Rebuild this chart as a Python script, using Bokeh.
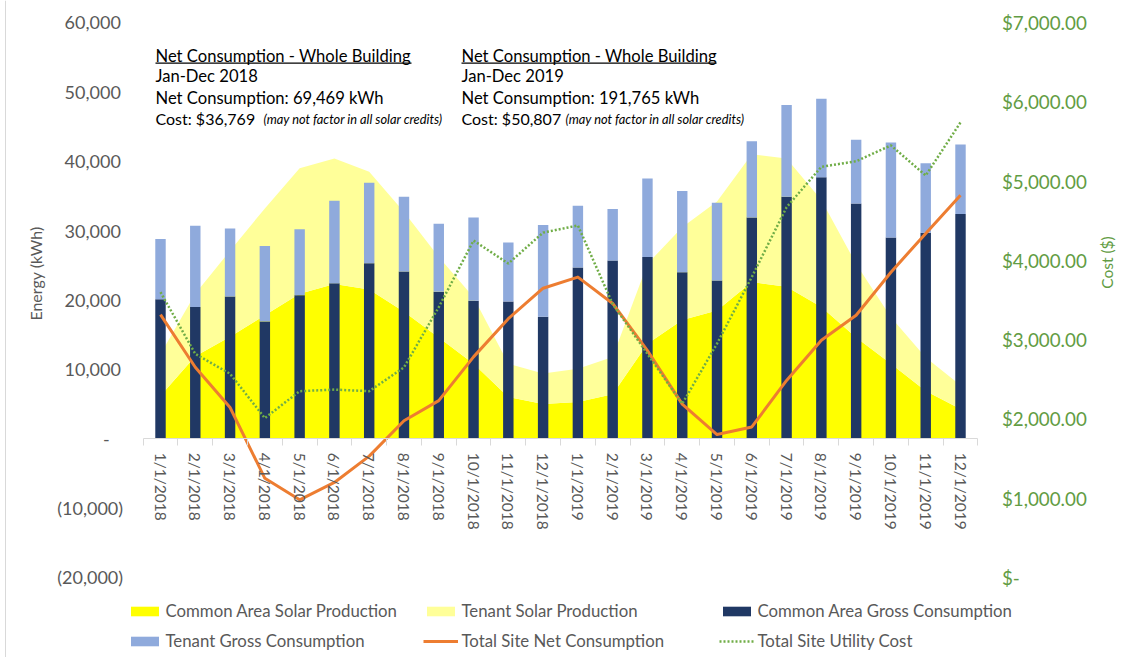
import math
from bokeh.plotting import figure
from bokeh.models import (ColumnDataSource, Range1d, LinearAxis, FixedTicker,
                          Legend, LegendItem, Label, BoxAnnotation, Span)
from bokeh.embed import file_html
from bokeh.resources import INLINE

# ---------------- data ----------------
months = ["1/1/2018", "2/1/2018", "3/1/2018", "4/1/2018", "5/1/2018", "6/1/2018",
          "7/1/2018", "8/1/2018", "9/1/2018", "10/1/2018", "11/1/2018", "12/1/2018",
          "1/1/2019", "2/1/2019", "3/1/2019", "4/1/2019", "5/1/2019", "6/1/2019",
          "7/1/2019", "8/1/2019", "9/1/2019", "10/1/2019", "11/1/2019", "12/1/2019"]

common_solar = [6200, 11900, 14700, 17800, 20900, 22300, 21500, 18300, 14600, 10800, 6000, 5000,
                5300, 6400, 13700, 17100, 18500, 22600, 21900, 19000, 14600, 10800, 6900, 4300]
tenant_solar = [6000, 9000, 12400, 15400, 18100, 18100, 17000, 14400, 11600, 9600, 4800, 4400,
                4800, 5400, 11500, 13400, 15700, 18400, 18500, 15400, 10600, 6700, 4800, 3400]
common_gross = [20100, 19000, 20500, 16900, 20700, 22400, 25300, 24100, 21200, 19900, 19800, 17600,
                24700, 25700, 26200, 24000, 22800, 31900, 34900, 37700, 33900, 29000, 29700, 32400]
tenant_gross = [8700, 11700, 9800, 10900, 9500, 11900, 11600, 10800, 9800, 12000, 8500, 13200,
                8900, 7400, 11300, 11700, 11200, 11000, 13200, 11300, 9200, 13700, 10000, 10000]
net_consumption = [17900, 10300, 4500, -5700, -8800, -6300, -2500, 2600, 5500, 11800, 17300, 21700,
                   23300, 19500, 12700, 5000, 600, 1700, 8400, 14200, 17800, 24000, 29600, 35100]
utility_cost = [3600, 2820, 2570, 2010, 2350, 2370, 2350, 2650, 3410, 4250, 3960, 4350,
                4440, 3450, 2820, 2190, 2950, 3790, 4670, 5180, 5250, 5450, 5070, 5740]

energy_ticks = [-20000, -10000, 0, 10000, 20000, 30000, 40000, 50000, 60000]
energy_labels = ["(20,000)", "(10,000)", "-\u2003", "10,000\u2009", "20,000\u2009",
                 "30,000\u2009", "40,000\u2009", "50,000\u2009", "60,000\u2009"]
cost_ticks = [0, 1000, 2000, 3000, 4000, 5000, 6000, 7000]
cost_labels = ["$-", "$1,000.00", "$2,000.00", "$3,000.00", "$4,000.00",
               "$5,000.00", "$6,000.00", "$7,000.00"]

FONT = "Lato"
GREY = "#595959"
GREEN = "#629c44"

n = len(months)
x = list(range(n))
src = ColumnDataSource(dict(x=x, common_solar=common_solar, tenant_solar=tenant_solar,
                            common_gross=common_gross, tenant_gross=tenant_gross,
                            net=net_consumption, cost=utility_cost))

p = figure(width=1124, height=657, output_backend="svg", toolbar_location=None,
           x_range=Range1d(-4.600, 27.715), y_range=Range1d(-31532, 63171),
           x_axis_location=None, y_axis_location=None,
           min_border=0, min_border_left=0, min_border_right=0,
           min_border_top=0, min_border_bottom=0)
p.extra_y_ranges = {"cost": Range1d(-1009, 7277.5)}
p.outline_line_color = None
p.xgrid.visible = False
p.ygrid.visible = False

# left axis (energy), pinned at the left edge of the category area
ya = LinearAxis(ticker=FixedTicker(ticks=energy_ticks),
                major_label_overrides=dict(zip(energy_ticks, energy_labels)),
                fixed_location=-0.5, axis_line_color=None,
                major_tick_line_color=None, major_tick_out=0, major_tick_in=0,
                minor_tick_line_color=None, minor_tick_out=0, minor_tick_in=0,
                major_label_standoff=20, major_label_text_font=FONT,
                major_label_text_font_size="18px", major_label_text_color=GREY)
p.add_layout(ya, "left")

# right axis (cost)
ra = LinearAxis(y_range_name="cost", ticker=FixedTicker(ticks=cost_ticks),
                major_label_overrides=dict(zip(cost_ticks, cost_labels)),
                fixed_location=n - 0.5, axis_line_color=None,
                major_tick_line_color=None, major_tick_out=0, major_tick_in=0,
                minor_tick_line_color=None, minor_tick_out=0, minor_tick_in=0,
                major_label_standoff=24, major_label_text_font=FONT,
                major_label_text_font_size="18.8px", major_label_text_color=GREEN)
p.add_layout(ra, "right")

# category axis at zero
xa = LinearAxis(ticker=FixedTicker(ticks=x, minor_ticks=[i - 0.5 for i in range(n + 1)]),
                major_label_overrides=dict(zip(x, months)), fixed_location=0,
                bounds=(-0.5, n - 0.5),
                major_label_orientation="vertical", axis_line_color="#d9d9d9",
                major_tick_line_color=None, major_tick_out=0, major_tick_in=0,
                minor_tick_line_color="#d9d9d9", minor_tick_out=7, minor_tick_in=0,
                major_label_standoff=7, major_label_text_font=FONT,
                major_label_text_font_size="15.5px", major_label_text_color=GREY)
p.add_layout(xa, "below")

# chart border line at the far left
p.add_layout(Span(location=-4.456, dimension="height", line_color="#d9d9d9", line_width=1))

# areas
areas = p.varea_stack(["common_solar", "tenant_solar"], x="x", source=src,
                      color=["#ffff00", "#ffff99"])
# bars
bars = p.vbar_stack(["common_gross", "tenant_gross"], x="x", width=0.3, source=src,
                    color=["#203864", "#8faadc"], line_color=None)
# lines
net_r = p.line("x", "net", source=src, line_color="#ed7d31", line_width=3, line_join="round")
cost_r = p.line("x", "cost", source=src, y_range_name="cost", line_color="#70ad47",
                line_width=2.5, line_dash="2 2")

legend = Legend(items=[
    LegendItem(label="Common Area Solar Production", renderers=[areas[0]]),
    LegendItem(label="Tenant Solar Production", renderers=[areas[1]]),
    LegendItem(label="Common Area Gross Consumption", renderers=[bars[0]]),
    LegendItem(label="Tenant Gross Consumption", renderers=[bars[1]]),
    LegendItem(label="Total Site Net Consumption", renderers=[net_r]),
    LegendItem(label="Total Site Utility Cost", renderers=[cost_r]),
], ncols=3, orientation="horizontal", location=(126.5, 6),
    glyph_width=35, glyph_height=12, label_standoff=4, label_height=20, label_width=248,
    spacing=9, padding=0, margin=0, border_line_color=None, background_fill_alpha=0,
    label_text_font=FONT, label_text_font_size="16.8px", label_text_color=GREY)
p.add_layout(legend)

# axis titles
p.add_layout(Label(x=-3.594, y=23820, text="Energy (kWh)", angle=math.pi / 2,
                   text_align="center", text_baseline="middle", text_font=FONT,
                   text_font_size="16px", text_color=GREY))
p.add_layout(Label(x=27.226, y=25405, text="Cost ($)", angle=math.pi / 2,
                   text_align="center", text_baseline="middle", text_font=FONT,
                   text_font_size="15.5px", text_color=GREEN))

# annotation blocks
blocks = [
    (-0.144, 2.961, 7.216, "Jan-Dec 2018", "Net Consumption: 69,469 kWh", "Cost: $36,769"),
    (8.654, 11.644, 15.985, "Jan-Dec 2019", "Net Consumption: 191,765 kWh", "Cost: $50,807"),
]
base_y = [55243, 52259, 49146, 46119]
for bx, ix, ux, l2, l3, l4 in blocks:
    for txt, yy, fs in zip(["Net Consumption - Whole Building", l2, l3, l4], base_y,
                           ["16.6px", "16.6px", "16.6px", "16px"]):
        p.add_layout(Label(x=bx, y=yy, text=txt, text_font=FONT, text_font_size=fs,
                           text_color="black", text_baseline="alphabetic"))
    p.add_layout(Label(x=ix, y=base_y[3], text="(may not factor in all solar credits)",
                       text_font=FONT, text_font_size="12.8px", text_font_style="italic",
                       text_color="black", text_baseline="alphabetic"))
    p.add_layout(BoxAnnotation(left=bx, right=ux, bottom=54061, top=54234,
                               fill_color="black", fill_alpha=1, line_color=None))

open("out.html", "w").write(file_html(p, INLINE))
